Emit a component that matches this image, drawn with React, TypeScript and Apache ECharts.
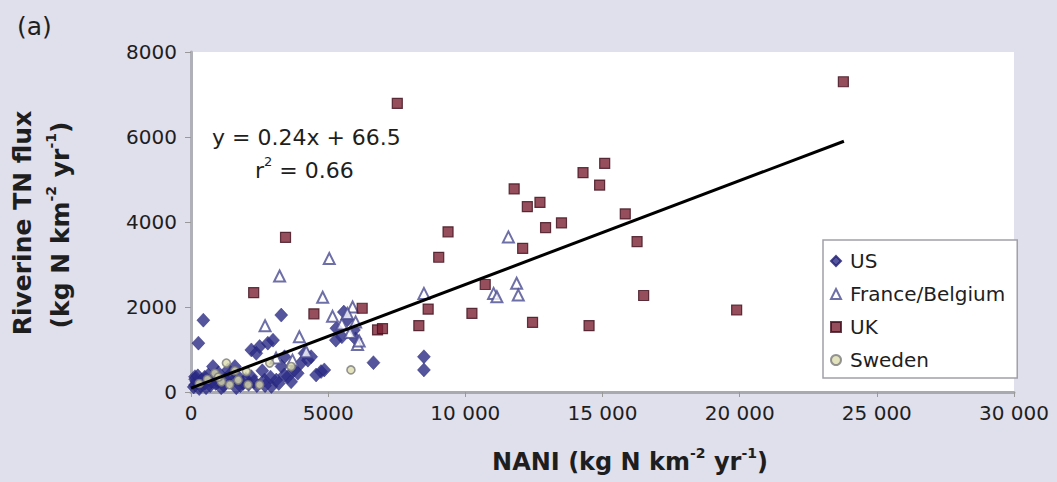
import React, { useEffect, useRef } from "react";
import * as echarts from "echarts";

const xTicks = [0, 5000, 10000, 15000, 20000, 25000, 30000];
const xTickLabels = ["0", "5000", "10 000", "15 000", "20 000", "25 000", "30 000"];
const yTicks = [0, 2000, 4000, 6000, 8000];
const yTickLabels = ["0", "2000", "4000", "6000", "8000"];

const usData = [
  [450, 1690], [270, 1150], [3290, 1810], [145, 360], [390, 280], [630, 400], [870, 320],
  [145, 165], [510, 205], [990, 240], [1350, 520], [1600, 600], [1720, 360], [2200, 360],
  [2200, 990], [2500, 1070], [2800, 1150], [2990, 1220], [2380, 910], [2680, 280], [2930, 130],
  [3110, 280], [3530, 360], [3770, 520], [4010, 680], [4140, 910], [4260, 750], [4380, 830],
  [3410, 830], [3650, 240], [3890, 440], [4740, 480], [4560, 400], [4860, 520], [5280, 1220],
  [6650, 690], [8490, 830], [8490, 520], [5570, 1880], [5940, 1460], [5300, 1500], [5700, 1700],
  [100, 120], [300, 80], [200, 250], [700, 150], [1100, 100], [1900, 200], [2400, 150],
  [2600, 500], [3300, 600], [1500, 250], [800, 600], [5500, 1300], [6000, 1250],
  [150, 300], [250, 380], [350, 150], [500, 350], [550, 100], [750, 250], [900, 200],
  [1000, 450], [1200, 150], [1250, 300], [1400, 400], [1800, 150], [2000, 300], [2100, 180],
  [2300, 250], [2700, 150], [2900, 350], [3200, 200], [3400, 400], [1650, 100],
];

const franceData = [
  [2700, 1560], [3230, 2730], [3950, 1300], [4800, 2230], [5040, 3140], [5160, 1780],
  [5500, 1600], [5890, 2000], [6070, 1120], [6130, 1200], [5700, 1850], [6000, 1650],
  [5800, 1400], [8490, 2320], [11030, 2320], [11150, 2240], [11570, 3650], [11870, 2560],
  [11930, 2280], [3100, 800], [3700, 750], [4200, 950],
];

const ukData = [
  [2285, 2337], [3446, 3640], [4480, 1840], [6240, 1970], [6800, 1460], [6980, 1490],
  [7520, 6790], [8305, 1560], [8645, 1950], [9030, 3170], [9370, 3770], [10240, 1850],
  [10725, 2530], [11780, 4780], [12090, 3380], [12260, 4360], [12450, 1640], [12720, 4460],
  [12925, 3870], [13505, 3980], [14290, 5160], [14510, 1560], [14895, 4870], [15080, 5380],
  [15830, 4190], [16260, 3540], [16500, 2270], [19890, 1930], [23780, 7300],
];

const swedenData = [
  [300, 200], [600, 300], [870, 440], [1110, 240], [1290, 680], [1410, 170], [1720, 280],
  [2020, 480], [2080, 170], [2500, 170], [2870, 680], [3650, 600], [5830, 520], [1000, 350],
  [1600, 500],
];

const fitLine = [
  [0, 90],
  [23800, 5900],
];

const FONT = '"DejaVu Sans", sans-serif';
const TXT = "#1e1e1e";

export default function App() {
  const ref = useRef<HTMLDivElement>(null);

  useEffect(() => {
    if (!ref.current) return;
    const chart = echarts.init(ref.current, undefined, { renderer: "svg" });
    const supRich = (size: number) => ({
      n: { fontFamily: FONT, fontSize: size, fontWeight: "bold", fill: TXT, lineHeight: size + 8 },
      s: { fontFamily: FONT, fontSize: Math.round(size * 0.58), fontWeight: "bold", fill: TXT, lineHeight: size + 8, verticalAlign: "top" },
    });
    chart.setOption({
      animation: false,
      backgroundColor: "#e0dfec",
      grid: {
        left: 191,
        right: 43,
        top: 52,
        bottom: 90,
        show: true,
        backgroundColor: "#ffffff",
        borderWidth: 0,
      },
      xAxis: {
        type: "value",
        min: 0,
        max: 30000,
        interval: 5000,
        axisLine: { show: true, onZero: false, lineStyle: { color: "#a9a9b0", width: 3 } },
        axisTick: { show: true, length: 5, lineStyle: { color: "#999" } },
        splitLine: { show: false },
        axisLabel: {
          margin: 11,
          fontFamily: FONT,
          fontSize: 20,
          color: TXT,
          formatter: (v: number) => {
            const i = xTicks.indexOf(v);
            return i >= 0 ? xTickLabels[i] : String(v);
          },
        },
      },
      yAxis: [
        {
          type: "value",
          min: 0,
          max: 8000,
          interval: 2000,
          axisLine: { show: true, onZero: false, lineStyle: { color: "#9a9aa2", width: 2 } },
          axisTick: { show: true, length: 6, lineStyle: { color: "#999" } },
          splitLine: { show: false },
          axisLabel: {
            margin: 14,
            fontFamily: FONT,
            fontSize: 20,
            color: TXT,
            formatter: (v: number) => {
              const i = yTicks.indexOf(v);
              return i >= 0 ? yTickLabels[i] : String(v);
            },
          },
        },
        {
          type: "value",
          position: "right",
          min: 0,
          max: 8000,
          interval: 2000,
          axisLine: { show: true, lineStyle: { color: "#b0b0b8", width: 3 } },
          axisTick: { show: false },
          axisLabel: { show: false },
          splitLine: { show: false },
        },
      ],
      legend: {
        orient: "vertical",
        left: 823,
        top: 240,
        backgroundColor: "#ffffff",
        borderColor: "#a0a0a8",
        borderWidth: 1.5,
        padding: [11, 12, 8, 7],
        itemGap: 13,
        itemWidth: 10,
        itemHeight: 10,
        textStyle: { fontFamily: FONT, fontSize: 20, color: TXT, padding: [0, 0, 0, 4] },
        data: ["US", "France/Belgium", "UK", "Sweden"],
      },
      graphic: [
        {
          type: "text",
          x: 17,
          y: 26,
          style: { text: "(a)", font: `25px ${FONT}`, fill: TXT, verticalAlign: "middle" },
        },
        {
          type: "text",
          x: 212,
          y: 137,
          style: { text: "y = 0.24x + 66.5", font: `22px ${FONT}`, fill: TXT, verticalAlign: "middle" },
        },
        {
          type: "text",
          x: 255,
          y: 170,
          style: {
            text: "{n|r}{s|2}{n| = 0.66}",
            verticalAlign: "middle",
            rich: {
              n: { fontFamily: FONT, fontSize: 22, fill: TXT, lineHeight: 30 },
              s: { fontFamily: FONT, fontSize: 13, fill: TXT, lineHeight: 30, verticalAlign: "top" },
            },
          },
        },
        {
          type: "text",
          x: 22,
          y: 223,
          rotation: Math.PI / 2,
          style: {
            text: "Riverine TN flux",
            font: `bold 25px ${FONT}`,
            fill: TXT,
            align: "center",
            verticalAlign: "middle",
          },
        },
        {
          type: "text",
          x: 60,
          y: 225,
          rotation: Math.PI / 2,
          style: {
            text: "{n|(kg N km}{s|-2}{n| yr}{s|-1}{n|)}",
            align: "center",
            verticalAlign: "middle",
            rich: supRich(25),
          },
        },
        {
          type: "text",
          x: 630,
          y: 462,
          style: {
            text: "{n|NANI (kg N km}{s|-2}{n| yr}{s|-1}{n|)}",
            align: "center",
            verticalAlign: "middle",
            rich: supRich(24),
          },
        },
      ],
      series: [
        {
          name: "US",
          type: "scatter",
          symbol: "diamond",
          symbolSize: [13, 14],
          itemStyle: { color: "#2b2a86", borderColor: "#1f1d70", borderWidth: 0.5 },
          data: usData,
          z: 3,
        },
        {
          name: "France/Belgium",
          type: "scatter",
          symbol: "triangle",
          symbolSize: 11,
          itemStyle: { color: "#ffffff", borderColor: "#4b4b92", borderWidth: 2 },
          data: franceData,
          z: 4,
        },
        {
          name: "UK",
          type: "scatter",
          symbol: "rect",
          symbolSize: 10,
          itemStyle: { color: "#7c2033", borderColor: "#3f0f1c", borderWidth: 1.2 },
          data: ukData,
          z: 4,
        },
        {
          name: "Sweden",
          type: "scatter",
          symbol: "circle",
          symbolSize: 8,
          itemStyle: { color: "#dcdcae", borderColor: "#7a7a7a", borderWidth: 1.6 },
          data: swedenData,
          z: 5,
        },
        {
          name: "fit",
          type: "line",
          data: fitLine,
          showSymbol: false,
          symbol: "none",
          lineStyle: { color: "#000", width: 3 },
          z: 6,
          silent: true,
        },
      ],
    });
    return () => chart.dispose();
  }, []);

  return (
    <div
      ref={ref}
      style={{ position: "absolute", left: 0, top: 0, width: 1057, height: 482 }}
    />
  );
}
